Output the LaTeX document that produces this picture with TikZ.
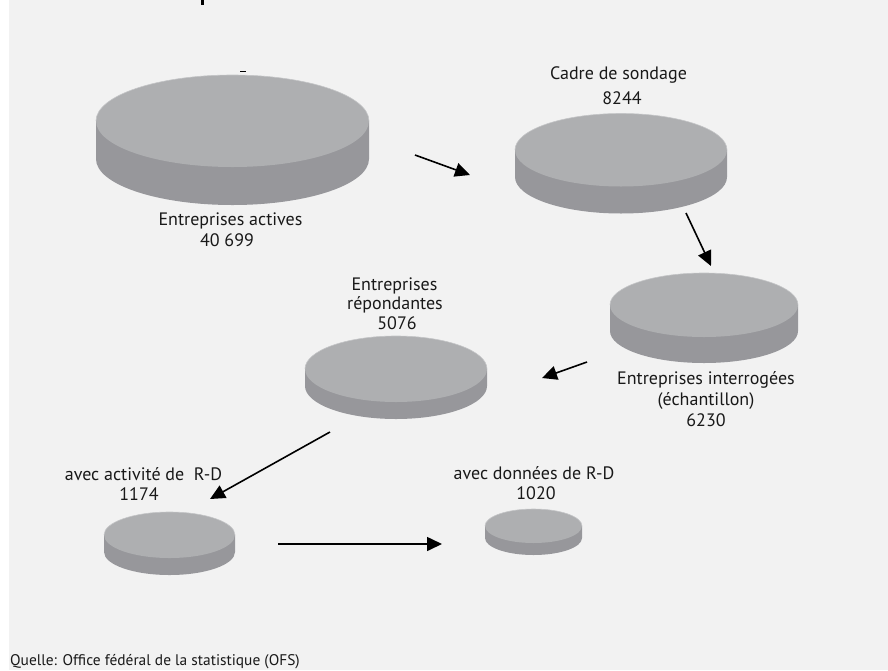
\documentclass[tikz,border=0pt]{standalone}
\usepackage{fontspec}
\setmainfont{PT Sans}
\usetikzlibrary{arrows.meta}
\definecolor{bgcol}{HTML}{F2F2F2}
\definecolor{topcol}{HTML}{AEAFB1}
\definecolor{sidecol}{HTML}{97979B}
\definecolor{rimcol}{HTML}{C4C5C7}
\tikzset{
  lbl/.style={anchor=base, inner sep=0pt, text=black!90, font=\fontsize{18}{20}\selectfont},
  src/.style={anchor=base west, inner sep=0pt, text=black!90, font=\fontsize{15.4}{18}\selectfont},
  flow/.style={line width=1.6pt, -{Triangle[length=15pt,width=14pt]}},
}
\newcommand\diskdraw[5]{%
  \fill[sidecol] ({#1-#3},{-#2}) -- ({#1-#3},{-#2-#5}) arc[start angle=180,end angle=360,x radius=#3,y radius=#4] -- ({#1+#3},{-#2}) -- cycle;
  \fill[topcol] (#1,{-#2}) ellipse[x radius=#3,y radius=#4];
  \draw[rimcol, line width=0.6pt] ({#1-#3},{-#2}) arc[start angle=180,end angle=0,x radius=#3,y radius=#4];
}
\begin{document}
\begin{tikzpicture}[x=1pt,y=1pt]
\useasboundingbox (0,0) rectangle (888,-670);
\fill[bgcol] (0,0) rectangle (888,-670);
\fill[white] (0,0) rectangle (9,-670);
% cut-off marks at top
\fill[black] (201,0) rectangle (203.5,-4.5);
\draw[black, line width=0.9pt] (240,-71) -- (246,-71);
% disks
\diskdraw{232.5}{121}{136.5}{46}{38}
\diskdraw{621}{150}{106}{36.5}{27}
\diskdraw{704}{305}{94}{32}{26}
\diskdraw{396}{369}{91}{33}{17}
\diskdraw{169.5}{535}{65.5}{23}{17}
\diskdraw{533.5}{526}{48.5}{17}{12}
% labels
\node[lbl] (actA) at (230.5,-225) {Entreprises actives};
\node[lbl] (actB) at (227,-246) {40 699};
\node[lbl] (cadA) at (618.5,-79) {Cadre de sondage};
\node[lbl] (cadB) at (622,-104) {8244};
\node[lbl] (intA) at (706,-384) {Entreprises interrogées};
\node[lbl] (intB) at (706,-405) {(échantillon)};
\node[lbl] (intC) at (706,-426) {6230};
\node[lbl] (repA) at (394.5,-290) {Entreprises};
\node[lbl] (repB) at (395,-309) {répondantes};
\node[lbl] (repC) at (397,-329) {5076};
\node[lbl] (rdaA) at (143.5,-480) {avec activité de\ \ R-D};
\node[lbl] (rdaB) at (139,-500) {1174};
\node[lbl] (rddA) at (534,-479) {avec données de R-D};
\node[lbl] (rddB) at (536,-499) {1020};
\node[src] (source) at (10,-665) {Quelle: Office fédéral de la statistique (OFS)};
% arrow ends
\coordinate (a1s) at (415,-155); \coordinate (a1e) at (470,-175);
\coordinate (a2s) at (686,-213); \coordinate (a2e) at (711,-266);
\coordinate (a3s) at (587,-362); \coordinate (a3e) at (542,-378);
\coordinate (a4s) at (330,-432); \coordinate (a4e) at (210,-499);
\coordinate (a5s) at (278,-544); \coordinate (a5e) at (442,-544);
\draw[flow] (a1s) -- (a1e);
\draw[flow] (a2s) -- (a2e);
\draw[flow] (a3s) -- (a3e);
\draw[flow] (a4s) -- (a4e);
\draw[flow] (a5s) -- (a5e);
\end{tikzpicture}
\end{document}
